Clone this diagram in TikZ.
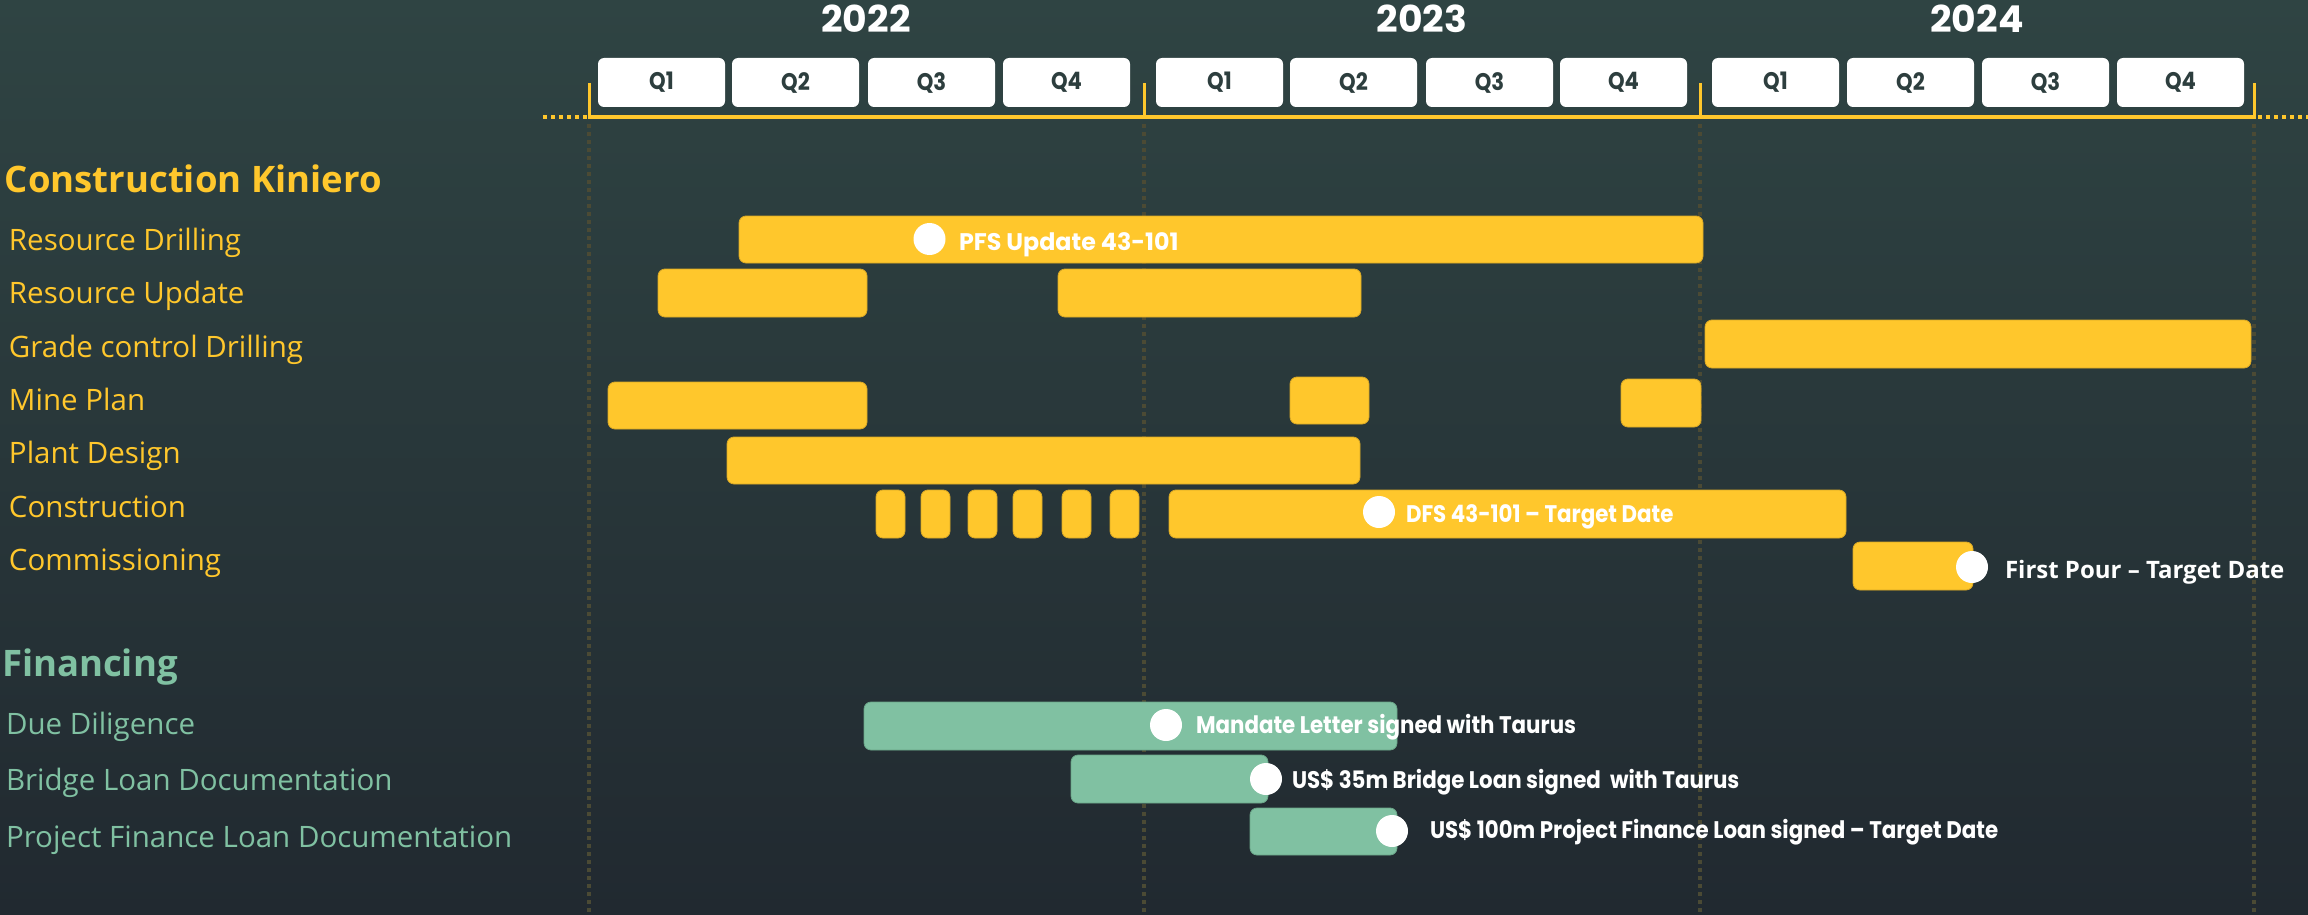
\documentclass[tikz,border=0pt]{standalone}
\usepackage{fontspec}
\usepackage{graphicx}
\setmainfont{Open Sans}
\newfontfamily\pop{Poppins}
\definecolor{bgtop}{HTML}{2F4443}
\definecolor{bgbot}{HTML}{212930}
\definecolor{ylw}{HTML}{FFC72C}
\definecolor{ylwdk}{HTML}{D9A826}
\definecolor{grn}{HTML}{80C1A2}
\definecolor{grndk}{HTML}{6AA588}
\definecolor{gridc}{HTML}{4B4A34}
\definecolor{qtxt}{HTML}{2D3E3E}
\newcommand{\cond}[2]{\scalebox{#1}[1]{#2}}
\tikzset{
  txt/.style={inner sep=0pt, outer sep=0pt},
  lab/.style={txt, anchor=base west, font=\fontsize{29.5}{32}\selectfont},
  head/.style={txt, anchor=base west, font=\fontsize{36.5}{40}\selectfont\bfseries},
  ybar/.style={fill=ylw, draw=ylwdk, line width=0.8pt, rounded corners=7pt},
  gbar/.style={fill=grn, draw=grndk, line width=0.8pt, rounded corners=7pt},
  dot/.style={fill=white},
  mst/.style={txt, anchor=base west, text=white, font=\pop\bfseries\fontsize{24}{28}\selectfont},
  qbox/.style={fill=white, rounded corners=6pt, minimum width=127pt, minimum height=49pt, inner sep=0pt,
    text=qtxt, font=\pop\bfseries\fontsize{24}{28}\selectfont},
  ylab/.style={txt, anchor=base, text=white, font=\pop\bfseries\fontsize{37}{40}\selectfont},
  vgrid/.style={draw=gridc, line width=3.5pt, dash pattern=on 4pt off 4pt},
  axis/.style={draw=ylw, line width=4pt},
  axisdot/.style={draw=ylw, line width=4pt, dash pattern=on 4pt off 4pt},
}
\begin{document}
\begin{tikzpicture}[x=1pt,y=-1pt]
\useasboundingbox (0,0) rectangle (2308,915);
\shade[top color=bgtop, bottom color=bgbot] (0,0) rectangle (2308,915);

% vertical grid
\foreach \gx in {589,1144,1700,2254}{
  \draw[vgrid] (\gx,124) -- (\gx,915);
}
% axis
\draw[axisdot] (543,117) -- (587,117);
\draw[axisdot] (2258,117) -- (2308,117);
\draw[axis] (589,117) -- (2254,117);
\foreach \gx in {589,1144,1700,2254}{
  \draw[draw=ylw, line width=3pt] (\gx,83) -- (\gx,119);
}

% years
\node[ylab] (y2022) at (866,33) {\cond{1.02}{2022}};
\node[ylab] (y2023) at (1422,33) {\cond{1.02}{2023}};
\node[ylab] (y2024) at (1977,33) {\cond{1.02}{2024}};

% quarters
\foreach \qx/\qn/\qid in {598/1/a1,732/2/a2,868/3/a3,1003/4/a4,1156/1/b1,1290/2/b2,1426/3/b3,1560/4/b4,1712/1/c1,1847/2/c2,1982/3/c3,2117/4/c4}{
  \node[qbox] (q\qid) at (\qx+63.5,82.5) {\cond{0.88}{Q\qn}};
}

% left labels
\node[head, text=ylw] (hck) at (5,193) {Construction Kiniero};
\node[lab, text=ylw] (lrd) at (9,250) {Resource Drilling};
\node[lab, text=ylw] (lru) at (9,303) {Resource Update};
\node[lab, text=ylw] (lgc) at (9,357) {Grade control Drilling};
\node[lab, text=ylw] (lmp) at (9,410) {Mine Plan};
\node[lab, text=ylw] (lpd) at (9,463) {Plant Design};
\node[lab, text=ylw] (lco) at (9,517) {Construction};
\node[lab, text=ylw] (lcm) at (9,570) {Commissioning};
\node[head, text=grn] (hfi) at (2,676) {Financing};
\node[lab, text=grn] (ldd) at (6,734) {Due Diligence};
\node[lab, text=grn] (lbl) at (6,790) {Bridge Loan Documentation};
\node[lab, text=grn] (lpf) at (6,847) {Project Finance Loan Documentation};

% bars
\path[ybar] (739,216) rectangle (1703,263);
\path[ybar] (658,269) rectangle (867,317);
\path[ybar] (1058,269) rectangle (1361,317);
\path[ybar] (1705,320) rectangle (2251,368);
\path[ybar] (608,382) rectangle (867,429);
\path[ybar] (1290,377) rectangle (1369,424);
\path[ybar] (1621,379) rectangle (1701,427);
\path[ybar] (727,437) rectangle (1360,484);
\foreach \sx in {876,921,968,1013,1062,1110}{
  \path[ybar] (\sx,490) rectangle (\sx+29,538);
}
\path[ybar] (1169,490) rectangle (1846,538);
\path[ybar] (1853,542) rectangle (1973,590);
\path[gbar] (864,702) rectangle (1397,750);
\path[gbar] (1071,755) rectangle (1268,803);
\path[gbar] (1250,808) rectangle (1397,855);

% milestones
\fill[dot] (929.5,239) circle (16pt);
\fill[dot] (1379,512) circle (16pt);
\fill[dot] (1972,567) circle (16pt);
\fill[dot] (1166,725) circle (16pt);
\fill[dot] (1266,779) circle (16pt);
\fill[dot] (1392,831) circle (16pt);

\node[mst, font=\pop\fontsize{24}{28}\selectfont\bfseries] (mpfs) at (959,250) {\cond{0.99}{PFS Update 43-101}};
\node[mst] (mdfs) at (1406,522) {\cond{0.89}{DFS 43-101 – Target Date}};
\node[txt, anchor=base west, text=white, font=\fontsize{24}{28}\selectfont\bfseries] (mfp) at (2005,578) {First Pour – Target Date};
\node[mst] (mml) at (1196,733) {\cond{0.89}{Mandate Letter signed with Taurus}};
\node[mst] (mbl) at (1292,788) {\cond{0.89}{US\$ 35m Bridge Loan signed\ \ with Taurus}};
\node[mst] (mpf) at (1430,838) {\cond{0.89}{US\$ 100m Project Finance Loan signed – Target Date}};
\end{tikzpicture}
\end{document}
